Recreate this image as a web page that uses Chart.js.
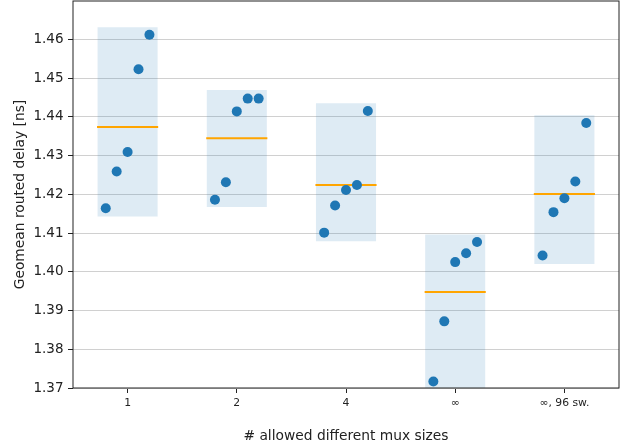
<!DOCTYPE html>
<html>
<head>
<meta charset="utf-8">
<script src="https://cdn.jsdelivr.net/npm/chart.js@4.4.1/dist/chart.umd.min.js"></script>
<style>
  html, body { margin: 0; padding: 0; background: #fff; }
  #chart { display: block; }
</style>
</head>
<body>
<canvas id="chart" width="634" height="448"></canvas>
<script>
// categories on the x axis
const categories = ['1', '2', '4', '∞', '∞, 96 sw.'];

// geomean routed delay [ns], 5 runs per category (sorted)
const delay1     = [1.4164, 1.4259, 1.4309, 1.4523, 1.4612];
const delay2     = [1.4186, 1.4231, 1.4414, 1.4447, 1.4447];
const delay4     = [1.4101, 1.4171, 1.4211, 1.4224, 1.4415];
const delayInf   = [1.3717, 1.3872, 1.4025, 1.4048, 1.4077];
const delayInf96 = [1.4042, 1.4154, 1.4190, 1.4233, 1.4384];

// orange mean lines and shaded ranges
const means   = [1.4374, 1.4345, 1.4224, 1.3948, 1.4201];
const boxLow  = [1.4143, 1.4167, 1.4079, 1.3697, 1.4020];
const boxHigh = [1.4631, 1.4469, 1.4435, 1.4096, 1.4404];

const yTicks = [1.37, 1.38, 1.39, 1.40, 1.41, 1.42, 1.43, 1.44, 1.45, 1.46];

const runs = [delay1, delay2, delay4, delayInf, delayInf96];
const FONT = 'DejaVu Sans';

const points = [];
runs.forEach((vals, c) => vals.forEach((v, i) => points.push({ x: c + (i - 2) * 0.1, y: v })));

const meanSets = means.map((m, c) => ({
  type: 'line', order: 1,
  data: [{ x: c - 0.28, y: m }, { x: c + 0.28, y: m }],
  borderColor: '#ffa500', borderWidth: 2, pointRadius: 0, fill: false
}));

const frame = {
  id: 'frame',
  afterDatasetsDraw(chart) {
    const { ctx, chartArea: a } = chart;
    ctx.save();
    ctx.strokeStyle = '#222';
    ctx.lineWidth = 1;
    ctx.strokeRect(a.left, a.top, a.right - a.left, a.bottom - a.top);
    ctx.restore();
  }
};

new Chart(document.getElementById('chart'), {
  type: 'scatter',
  data: {
    datasets: [
      {
        type: 'bar', order: 2,
        data: boxLow.map((lo, c) => ({ x: c, y: [lo, boxHigh[c]] })),
        backgroundColor: 'rgba(31,119,180,0.15)',
        borderWidth: 0,
        categoryPercentage: 1, barPercentage: 0.55
      },
      ...meanSets,
      {
        type: 'scatter', order: 0,
        data: points,
        backgroundColor: '#1f77b4', borderWidth: 0,
        pointRadius: 5, pointHoverRadius: 5
      }
    ]
  },
  options: {
    responsive: false,
    animation: false,
    devicePixelRatio: 1,
    layout: { autoPadding: false, padding: { left: 0, right: 15, top: 1, bottom: 0 } },
    plugins: { legend: { display: false }, tooltip: { enabled: false } },
    scales: {
      x: {
        type: 'linear', min: -0.5, max: 4.5, offset: false,
        afterBuildTicks: s => { s.ticks = categories.map((_, i) => ({ value: i })); },
        afterFit: s => { s.height = 60; s.paddingLeft = 0; s.paddingRight = 0; },
        grid: { offset: false, drawOnChartArea: false, tickLength: 5, tickColor: '#222' },
        border: { display: false },
        ticks: {
          color: '#222', padding: 4, maxRotation: 0,
          font: { family: FONT, size: 10.8 },
          callback: v => categories[v]
        },
        title: {
          display: true, text: '# allowed different mux sizes', color: '#222',
          font: { family: FONT, size: 13.8 }, padding: { top: 0, bottom: 3 }
        }
      },
      y: {
        min: 1.37, max: 1.4699,
        afterBuildTicks: s => { s.ticks = yTicks.map(v => ({ value: v })); },
        afterFit: s => { s.width = 73; s.paddingTop = 0; s.paddingBottom = 0; },
        grid: { color: '#d0d0d0', lineWidth: 1, tickLength: 5, tickColor: '#222' },
        border: { display: false },
        ticks: {
          color: '#222', padding: 4.5,
          font: { family: FONT, size: 13.5 },
          callback: v => v.toFixed(2)
        },
        title: {
          display: true, text: 'Geomean routed delay [ns]', color: '#222',
          font: { family: FONT, size: 13.8 }, padding: { top: 12, bottom: 0 }
        }
      }
    }
  },
  plugins: [frame]
});
</script>
</body>
</html>
